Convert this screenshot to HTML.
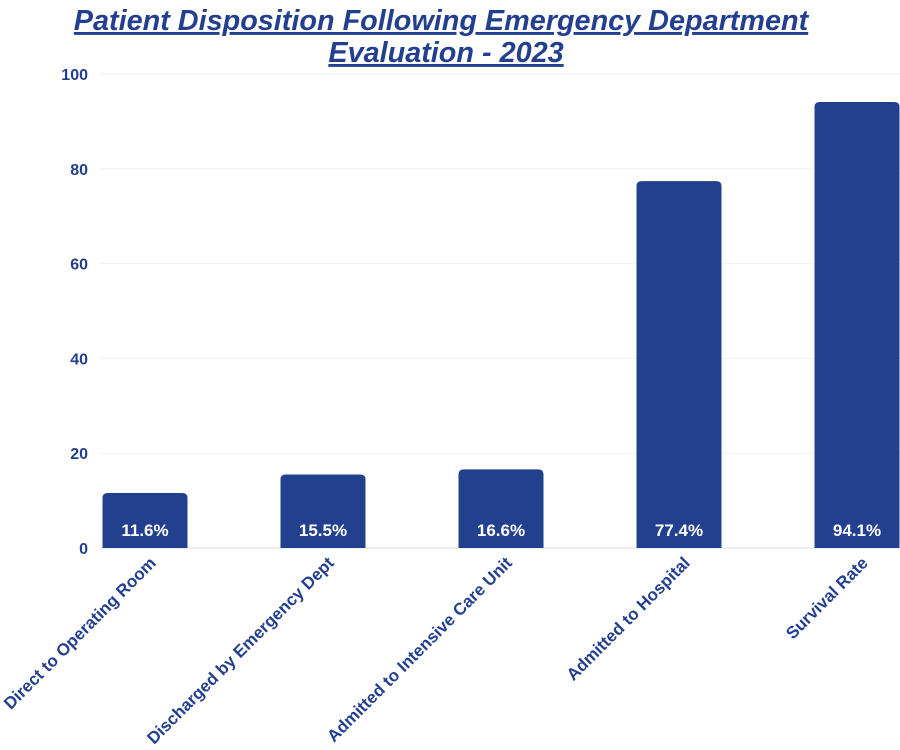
<!DOCTYPE html>
<html><head><meta charset="utf-8"><style>
html,body{margin:0;padding:0;background:#fff;}
svg{display:block;font-family:"Liberation Sans",sans-serif;}
</style></head><body>
<svg id="chart" width="900" height="750">
<text x="441" y="30" text-anchor="middle" font-size="28.8" font-weight="bold" font-style="italic" fill="#233f8f" text-decoration="underline">Patient Disposition Following Emergency Department</text>
<text x="446" y="62" text-anchor="middle" font-size="28.8" font-weight="bold" font-style="italic" fill="#233f8f" text-decoration="underline">Evaluation - 2023 </text>
<g id="grid"></g><g id="bars"></g><g id="labels"></g>
</svg>
<script>
const categories=["Direct to Operating Room","Discharged by Emergency Dept","Admitted to Intensive Care Unit","Admitted to Hospital","Survival Rate"];
const values=[11.6,15.5,16.6,77.4,94.1];
const valueLabels=["11.6%","15.5%","16.6%","77.4%","94.1%"];
const yTicks=[0,20,40,60,80,100];
const NS="http://www.w3.org/2000/svg";
const yBase=548,yTop=74;
function y(v){return yBase-(v/100)*(yBase-yTop);}
function xc(i){return 145+178*i;}
function mk(tag,attrs,parent){const e=document.createElementNS(NS,tag);for(const k in attrs)e.setAttribute(k,attrs[k]);document.getElementById(parent).appendChild(e);return e;}
yTicks.forEach(t=>{
  const l=mk('line',{x1:100,x2:900,y1:y(t),y2:y(t),stroke:t===0?'#dcdcdc':'#f0f0f0','stroke-width':1},'grid');
  
  
  const tx=mk('text',{x:88,y:y(t)+6,'text-anchor':'end','font-size':16,'font-weight':'bold',fill:'#233f8f'},'grid');
  tx.textContent=t;
  
  
});
const bw=85,r=5;
values.forEach((v,i)=>{
  const cx=xc(i),L=cx-bw/2,R=cx+bw/2,T=y(v);
  const p=mk('path',{d:`M${L},${yBase}V${T+r}Q${L},${T} ${L+r},${T}H${R-r}Q${R},${T} ${R},${T+r}V${yBase}Z`,fill:'#23408e'},'bars');
  
  
  const t=mk('text',{x:cx,y:536,'text-anchor':'middle','font-size':17,'font-weight':'bold',fill:'#fff'},'bars');
  t.textContent=valueLabels[i];
  
  
  const ax=cx+12,ay=564;
  const c=mk('text',{x:ax,y:ay,'text-anchor':'end','font-size':17,'font-weight':'bold',fill:'#233f8f',transform:`rotate(-45 ${ax} ${ay})`},'labels');
  c.textContent=categories[i];
  
  
});
</script>
</body></html>
